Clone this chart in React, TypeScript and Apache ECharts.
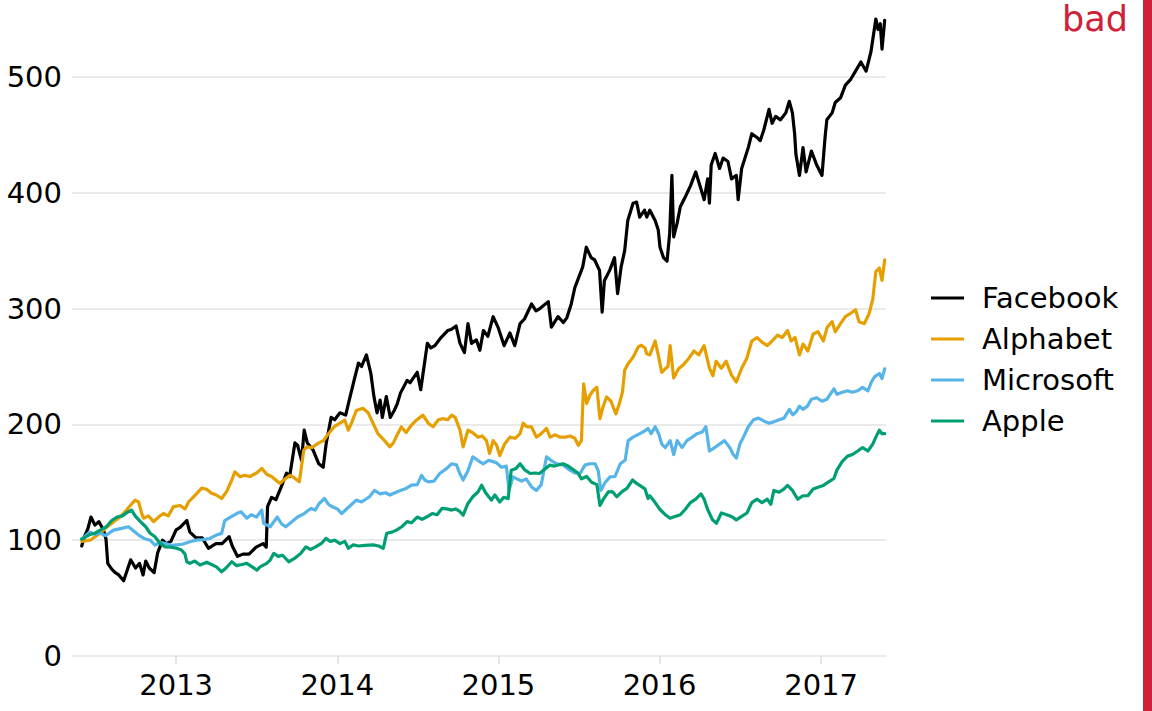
import React, { useEffect, useRef } from "react";
import * as echarts from "echarts";

const seriesNames = ["Facebook", "Alphabet", "Microsoft", "Apple"];
const seriesColors = ["#000000", "#E69F00", "#56B4E9", "#009E73"];
const yearTicks = ["2013-01-01", "2014-01-01", "2015-01-01", "2016-01-01", "2017-01-01"];
const yTicks = [0, 100, 200, 300, 400, 500];

const fbDates = [
  "2012-06-01","2012-06-08","2012-06-15","2012-06-22","2012-07-01","2012-07-10","2012-07-20","2012-07-26","2012-07-30","2012-08-08",
  "2012-08-16","2012-08-24","2012-09-04","2012-09-12","2012-09-20","2012-10-01","2012-10-10","2012-10-18","2012-10-24","2012-11-01",
  "2012-11-12","2012-11-20","2012-12-01","2012-12-10","2012-12-20","2013-01-01","2013-01-10","2013-01-25","2013-02-01","2013-02-15",
  "2013-03-01","2013-03-15","2013-04-01","2013-04-15","2013-05-01","2013-05-08","2013-05-20","2013-06-01","2013-06-15","2013-07-01",
  "2013-07-17","2013-07-24","2013-07-27","2013-08-05","2013-08-15","2013-08-27","2013-09-08","2013-09-15","2013-09-27","2013-10-03",
  "2013-10-12","2013-10-18","2013-10-25","2013-11-07","2013-11-20","2013-11-30","2013-12-07","2013-12-18","2013-12-26","2014-01-07",
  "2014-01-20","2014-01-30","2014-02-08","2014-02-18","2014-02-25","2014-03-08","2014-03-18","2014-03-25","2014-04-01","2014-04-08",
  "2014-04-13","2014-04-22","2014-05-01","2014-05-10","2014-05-17","2014-05-24","2014-06-08","2014-06-15","2014-07-01","2014-07-09",
  "2014-07-24","2014-08-01","2014-08-10","2014-08-24","2014-09-08","2014-09-16","2014-09-27","2014-10-06","2014-10-16","2014-10-24",
  "2014-11-01","2014-11-12","2014-11-20","2014-11-28","2014-12-08","2014-12-20","2014-12-31","2015-01-14","2015-01-27","2015-02-07",
  "2015-02-19","2015-03-01","2015-03-17","2015-03-27","2015-04-05","2015-04-24","2015-05-01","2015-05-16","2015-05-28","2015-06-05",
  "2015-06-15","2015-06-23","2015-07-11","2015-07-19","2015-07-30","2015-08-07","2015-08-18","2015-08-24","2015-08-29","2015-09-10",
  "2015-09-21","2015-09-28","2015-10-06","2015-10-14","2015-10-21","2015-11-02","2015-11-10","2015-11-17","2015-11-28","2015-12-03",
  "2015-12-10","2015-12-22","2015-12-29","2016-01-02","2016-01-10","2016-01-18","2016-01-24","2016-01-29","2016-02-02","2016-02-10",
  "2016-02-17","2016-02-29","2016-03-11","2016-03-23","2016-04-04","2016-04-11","2016-04-19","2016-04-23","2016-04-27","2016-05-06",
  "2016-05-16","2016-05-24","2016-06-04","2016-06-12","2016-06-23","2016-06-27","2016-07-05","2016-07-20","2016-07-28","2016-08-08",
  "2016-08-16","2016-08-24","2016-09-05","2016-09-12","2016-09-20","2016-10-01","2016-10-13","2016-10-21","2016-10-28","2016-11-02",
  "2016-11-05","2016-11-13","2016-11-21","2016-11-28","2016-12-10","2016-12-22","2017-01-03","2017-01-10","2017-01-14","2017-01-26",
  "2017-02-02","2017-02-14","2017-02-25","2017-03-09","2017-03-20","2017-04-01","2017-04-13","2017-04-24","2017-05-05","2017-05-10",
  "2017-05-15","2017-05-19","2017-05-25"
];
const fbValues = [
  95,104,110,120,113,116,109,101,80,75,
  72,70,65,74,83,76,80,70,82,76,
  72,89,100,97,99,109,111,117,107,102,
  102,93,97,97,103,95,86,88,88,94,
  97,94,129,137,135,146,158,155,184,182,
  169,195,184,178,166,163,184,206,204,210,
  208,224,238,253,250,260,244,224,210,221,
  206,224,206,212,218,227,238,236,245,230,
  270,266,268,275,281,282,285,270,262,287,
  270,273,264,281,276,293,284,268,279,268,
  287,291,304,298,300,306,284,293,288,292,
  304,318,336,353,344,342,333,297,324,333,
  344,313,336,350,376,391,392,379,385,379,
  385,376,368,353,344,341,365,415,362,374,
  388,397,406,418,403,394,412,391,424,434,
  421,430,427,412,415,394,421,439,451,448,
  445,454,472,460,466,463,469,479,469,451,
  433,415,439,418,436,424,415,448,463,469,
  478,482,493,498,505,513,505,522,550,541,
  546,524,549
];

const googDates = [
  "2012-06-01","2012-06-20","2012-07-13","2012-07-24","2012-08-16","2012-08-27","2012-09-07","2012-09-19","2012-09-30","2012-10-08",
  "2012-10-15","2012-10-19","2012-10-30","2012-11-11","2012-11-22","2012-12-03","2012-12-14","2012-12-26","2013-01-10","2013-01-21",
  "2013-01-29","2013-02-13","2013-02-28","2013-03-11","2013-03-22","2013-04-02","2013-04-14","2013-04-25","2013-05-07","2013-05-14",
  "2013-05-26","2013-06-05","2013-06-17","2013-07-02","2013-07-14","2013-07-25","2013-08-05","2013-08-24","2013-09-05","2013-09-16",
  "2013-09-25","2013-10-07","2013-10-17","2013-10-24","2013-11-05","2013-11-19","2013-12-01","2013-12-12","2013-12-25","2014-01-07",
  "2014-01-18","2014-01-26","2014-02-03","2014-02-13","2014-02-28","2014-03-12","2014-03-23","2014-04-03","2014-04-18","2014-04-30",
  "2014-05-08","2014-05-18","2014-05-26","2014-06-06","2014-06-17","2014-06-29","2014-07-14","2014-07-26","2014-08-06","2014-08-18",
  "2014-08-29","2014-09-08","2014-09-17","2014-09-25","2014-10-06","2014-10-13","2014-10-24","2014-11-03","2014-11-16","2014-11-25",
  "2014-12-05","2014-12-12","2014-12-20","2014-12-28","2015-01-04","2015-01-15","2015-01-27","2015-02-08","2015-02-19","2015-02-26",
  "2015-03-06","2015-03-17","2015-03-28","2015-04-08","2015-04-20","2015-04-28","2015-05-10","2015-05-20","2015-06-02","2015-06-12",
  "2015-06-23","2015-07-01","2015-07-08","2015-07-13","2015-07-20","2015-07-27","2015-08-04","2015-08-12","2015-08-19","2015-08-26",
  "2015-09-03","2015-09-13","2015-09-24","2015-10-02","2015-10-09","2015-10-14","2015-10-22","2015-11-02","2015-11-14","2015-11-21",
  "2015-11-29","2015-12-03","2015-12-10","2015-12-22","2015-12-29","2016-01-06","2016-01-14","2016-01-20","2016-01-25","2016-02-02",
  "2016-02-13","2016-02-24","2016-03-08","2016-03-19","2016-03-30","2016-04-11","2016-04-23","2016-05-01","2016-05-08","2016-05-20",
  "2016-05-31","2016-06-12","2016-06-23","2016-07-05","2016-07-17","2016-07-28","2016-08-09","2016-08-20","2016-09-01","2016-09-12",
  "2016-09-24","2016-10-05","2016-10-17","2016-10-25","2016-11-03","2016-11-13","2016-11-21","2016-12-02","2016-12-14","2016-12-25",
  "2017-01-06","2017-01-15","2017-01-26","2017-02-02","2017-02-14","2017-02-25","2017-03-09","2017-03-20","2017-03-28","2017-04-09",
  "2017-04-20","2017-04-28","2017-05-05","2017-05-13","2017-05-19","2017-05-25"
];
const googValues = [
  99,100,106,110,117,120,124.5,130,134.6,133,
  123,119,121,116,120,123,121,129,130,127,
  133,139,145,144,140.6,139,136,141.8,152,159,
  154.7,156,155,158,162,157,155,149,153,156,
  154,150.4,177.7,180.6,180,183.8,186,192,198,201,
  203.6,195,202,212,214,210,201,192,186,180.6,
  184,192,197.8,193,199,203.6,208,201,198,204,
  205,204,208,206,195,180.6,195,193,189,190,
  186,175,186,182,173,183,189,188,192,201,
  198,197.8,189,192,196.5,189,191,189,189,190,
  188,182,186,235,218,225,229.5,232,205,215,
  223.7,220,209,218,228,246.8,252.5,258,267,268.3,
  266,261,260,272,260,245,248,250,268,240,
  248,251.5,257.4,263.4,260,268,248.5,242,254.5,248.5,
  254.5,242.6,236.6,248.5,257.4,272,275,271,268,272,
  277,275,281,272,275,260,269.4,263.4,278,280,
  272,284,288.7,280,287,293,296,299,288.7,287,
  296,308,332,335,324.4,342
];

const msftDates = [
  "2012-06-01","2012-06-20","2012-07-01","2012-07-13","2012-07-25","2012-08-12","2012-08-28","2012-09-15","2012-09-27","2012-10-08",
  "2012-10-20","2012-11-03","2012-11-14","2012-11-26","2012-12-10","2012-12-22","2013-01-02","2013-01-15","2013-02-01","2013-02-15",
  "2013-03-03","2013-03-18","2013-04-02","2013-04-14","2013-04-21","2013-05-04","2013-05-18","2013-05-28","2013-06-10","2013-06-20",
  "2013-07-02","2013-07-14","2013-07-18","2013-08-02","2013-08-18","2013-08-28","2013-09-06","2013-09-20","2013-10-03","2013-10-18",
  "2013-11-02","2013-11-12","2013-11-21","2013-12-03","2013-12-12","2013-12-21","2014-01-01","2014-01-11","2014-01-25","2014-02-13",
  "2014-02-25","2014-03-15","2014-03-26","2014-04-08","2014-04-20","2014-04-30","2014-05-12","2014-05-24","2014-06-06","2014-06-18",
  "2014-07-01","2014-07-11","2014-07-18","2014-07-26","2014-08-08","2014-08-21","2014-09-06","2014-09-17","2014-09-28","2014-10-05",
  "2014-10-13","2014-10-24","2014-11-04","2014-11-15","2014-11-27","2014-12-10","2014-12-27","2015-01-08","2015-01-19","2015-01-25",
  "2015-02-03","2015-02-12","2015-02-22","2015-03-05","2015-03-17","2015-03-28","2015-04-08","2015-04-20","2015-04-30","2015-05-13",
  "2015-05-27","2015-06-12","2015-06-24","2015-07-05","2015-07-16","2015-07-27","2015-08-08","2015-08-15","2015-08-21","2015-08-31",
  "2015-09-11","2015-09-22","2015-10-04","2015-10-15","2015-10-22","2015-11-02","2015-11-12","2015-11-25","2015-12-06","2015-12-13",
  "2015-12-22","2015-12-30","2016-01-06","2016-01-14","2016-01-25","2016-02-02","2016-02-10","2016-02-21","2016-03-03","2016-03-15",
  "2016-03-26","2016-04-07","2016-04-15","2016-04-23","2016-05-05","2016-05-16","2016-05-27","2016-06-08","2016-06-16","2016-06-23",
  "2016-07-01","2016-07-09","2016-07-20","2016-08-01","2016-08-12","2016-08-24","2016-09-05","2016-09-17","2016-09-28","2016-10-09",
  "2016-10-21","2016-10-29","2016-11-06","2016-11-13","2016-11-21","2016-12-01","2016-12-10","2016-12-22","2017-01-03","2017-01-14",
  "2017-01-30","2017-02-06","2017-02-18","2017-03-02","2017-03-13","2017-03-25","2017-04-05","2017-04-17","2017-04-25","2017-05-02",
  "2017-05-13","2017-05-19","2017-05-25"
];
const msftValues = [
  101,107,105,106,104,108.7,110,111.6,108,104.4,
  101.5,100,95.8,98,97,95.5,96,96.5,98.6,100,
  100.5,101.5,104.4,105.9,117,120,123,124.5,119,122,
  120,126,114.5,111.6,120,114,111.6,116,120,123,
  127.4,126,131.7,136,131,128.8,127,123,128,134.6,
  133,137.5,143,140,141,139,141,143,144.7,147.5,
  148,156,152,150.4,151,157.6,162,166,165,158,
  152,160,172,169,166,169,167,163,164,143,
  154.7,153,151,153,146,143,148,172,169,166,
  165,160.5,158,157.6,164.8,166,166,160,143,150,
  154.7,155,166,169,186,189,191,193.5,196.5,192,
  198,192,183,180,186,174,186,180,186,189,
  192,193.5,198,177,180,183,186,180,174,171,
  183,189,198,204,205.4,203,201,202.4,204,205.4,
  213,208.3,211,215.8,213,215.8,221.7,223,220,221.7,
  230.7,226,227.7,229,227.7,229,232,229,236.6,241,
  244,239.6,248
];

const aaplDates = [
  "2012-06-01","2012-06-20","2012-07-01","2012-07-13","2012-07-27","2012-08-08","2012-08-20","2012-09-01","2012-09-14","2012-09-22",
  "2012-09-30","2012-10-12","2012-10-24","2012-11-03","2012-11-14","2012-11-26","2012-12-07","2012-12-20","2013-01-02","2013-01-13",
  "2013-01-21","2013-01-25","2013-02-01","2013-02-12","2013-02-24","2013-03-11","2013-03-22","2013-04-02","2013-04-14","2013-04-24",
  "2013-05-07","2013-05-18","2013-05-30","2013-06-10","2013-06-22","2013-07-03","2013-07-10","2013-07-25","2013-08-02","2013-08-10",
  "2013-08-20","2013-08-30","2013-09-13","2013-09-25","2013-10-10","2013-10-22","2013-11-01","2013-11-12","2013-11-26","2013-12-06",
  "2013-12-16","2013-12-26","2014-01-07","2014-01-18","2014-01-26","2014-02-06","2014-02-18","2014-03-05","2014-03-23","2014-04-05",
  "2014-04-15","2014-04-23","2014-05-05","2014-05-15","2014-05-27","2014-06-08","2014-06-18","2014-07-01","2014-07-12","2014-07-22",
  "2014-08-04","2014-08-15","2014-08-26","2014-09-06","2014-09-17","2014-09-26","2014-10-05","2014-10-13","2014-10-24","2014-11-04",
  "2014-11-16","2014-11-24","2014-12-03","2014-12-16","2014-12-24","2015-01-04","2015-01-13","2015-01-23","2015-01-30","2015-02-10",
  "2015-02-19","2015-03-01","2015-03-14","2015-03-25","2015-04-04","2015-04-15","2015-04-27","2015-05-08","2015-05-27","2015-06-08",
  "2015-06-19","2015-06-30","2015-07-08","2015-07-20","2015-07-31","2015-08-12","2015-08-19","2015-08-26","2015-09-07","2015-09-16",
  "2015-09-26","2015-10-08","2015-10-19","2015-11-01","2015-11-10","2015-11-17","2015-11-29","2015-12-06","2015-12-10","2015-12-22",
  "2016-01-02","2016-01-14","2016-01-25","2016-02-05","2016-02-17","2016-02-28","2016-03-11","2016-03-23","2016-04-04","2016-04-11",
  "2016-04-19","2016-04-30","2016-05-09","2016-05-20","2016-06-01","2016-06-12","2016-06-23","2016-07-05","2016-07-17","2016-07-28",
  "2016-08-09","2016-08-20","2016-09-01","2016-09-09","2016-09-16","2016-09-28","2016-10-09","2016-10-17","2016-10-28","2016-11-09",
  "2016-11-21","2016-12-02","2016-12-14","2016-12-25","2017-01-06","2017-01-18","2017-01-30","2017-02-06","2017-02-18","2017-03-02",
  "2017-03-13","2017-03-25","2017-04-05","2017-04-17","2017-04-28","2017-05-05","2017-05-13","2017-05-19","2017-05-25"
];
const aaplValues = [
  101,105,106,108.7,111.6,117,120,121,124.5,126,
  121,116,111.6,106,103,97,94.3,94,93,91.5,
  88,81.4,80,82,78.5,81,79,77,72.7,76,
  81.4,78,79,80,77,74.2,77,80,82.8,88.6,
  86,87,81.4,84,88.6,94.3,92,94,97.2,101.5,
  99,100,97,99,93,96,95,95.5,96,95,
  93,106,107,108.7,111.6,116,115,120,118,120,
  123,122,127.4,127,126,127,125,121.7,131.7,137.5,
  141.8,147.5,141,134.6,139,133,137,136,160.5,162,
  166,161,157.6,158,157.6,161,164.8,164,166,164,
  161,158,153,155,150,148,130,135,141.8,142,
  137.5,142,144.7,152,149,147.3,144.3,136,138.4,132.5,
  126.5,122,119,120.5,122,126.5,132.5,135.4,140,135.4,
  126.5,117.6,114.6,123.5,122,120.5,117.6,120.5,123.5,132.5,
  135.4,132.5,135.4,131,143,141.4,144.3,147.3,143,135.4,
  138.4,138.4,144.3,145.8,147.3,150.3,153.3,160.7,168,172.6,
  174,177,180,177,183,189,195,192,192
];

const allDates = [fbDates, googDates, msftDates, aaplDates];
const allValues = [fbValues, googValues, msftValues, aaplValues];

const FONT = "DejaVu Sans";
const STAMP = "#d02138";

const toTime = (d: string) => +echarts.time.parse(d);

export default function App() {
  const ref = useRef<HTMLDivElement>(null);
  useEffect(() => {
    if (!ref.current) return;
    const chart = echarts.init(ref.current, undefined, { renderer: "svg" });
    const tickTimes = yearTicks.map(toTime);
    const series = seriesNames.map((name, i) => ({
      name,
      type: "line",
      symbol: "none",
      showSymbol: false,
      data: allDates[i].map((d, j) => [toTime(d), allValues[i][j]]),
      lineStyle: { color: seriesColors[i], width: 3.2, join: "round", cap: "round" },
      itemStyle: { color: seriesColors[i] },
      emphasis: { disabled: true },
      z: 2 + i,
    }));
    chart.setOption({
      animation: false,
      grid: { left: 72, right: 266, top: 7.5, bottom: 55, containLabel: false },
      xAxis: {
        type: "value",
        min: toTime("2012-05-10"),
        max: toTime("2017-05-28"),
        axisLine: { show: false },
        splitLine: { show: false },
        axisTick: {
          show: true,
          length: 8,
          customValues: tickTimes,
          lineStyle: { color: "#dcdcdc", width: 1.5 },
        },
        axisLabel: {
          customValues: tickTimes,
          formatter: (v: number) => String(new Date(v).getFullYear()),
          color: "#000",
          fontSize: 29,
          fontFamily: FONT,
          margin: 14,
        },
      },
      yAxis: {
        type: "value",
        min: 0,
        max: 560,
        interval: 100,
        axisLine: { show: false },
        axisTick: { show: false },
        axisLabel: {
          color: "#000",
          fontSize: 29,
          fontFamily: FONT,
          margin: 10,
          showMaxLabel: false,
          formatter: (v: number) => (yTicks.includes(v) ? String(v) : ""),
        },
        splitLine: {
          show: true,
          showMaxLine: false,
          lineStyle: { color: "#e3e3e3", width: 1.5 },
        },
      },
      legend: {
        data: seriesNames.map((n) => ({ name: n, icon: "rect" })),
        orient: "vertical",
        left: 926,
        top: 278,
        itemWidth: 33,
        itemHeight: 3,
        itemGap: 11,
        selectedMode: false,
        textStyle: {
          color: "#000",
          fontSize: 29,
          fontFamily: FONT,
          lineHeight: 30,
          padding: [0, 0, 0, 13],
        },
      },
      graphic: [
        {
          type: "rect",
          shape: { x: 1143, y: 0, width: 9, height: 711 },
          style: { fill: STAMP },
        },
        {
          type: "text",
          x: 1128,
          y: 19,
          style: {
            text: "bad",
            fill: STAMP,
            font: `35px "${FONT}"`,
            textAlign: "right",
            textVerticalAlign: "middle",
          },
        },
      ],
      series,
    });
    return () => chart.dispose();
  }, []);
  return (
    <div
      ref={ref}
      style={{ position: "absolute", left: 0, top: 0, width: 1152, height: 711, background: "#fff" }}
    />
  );
}
